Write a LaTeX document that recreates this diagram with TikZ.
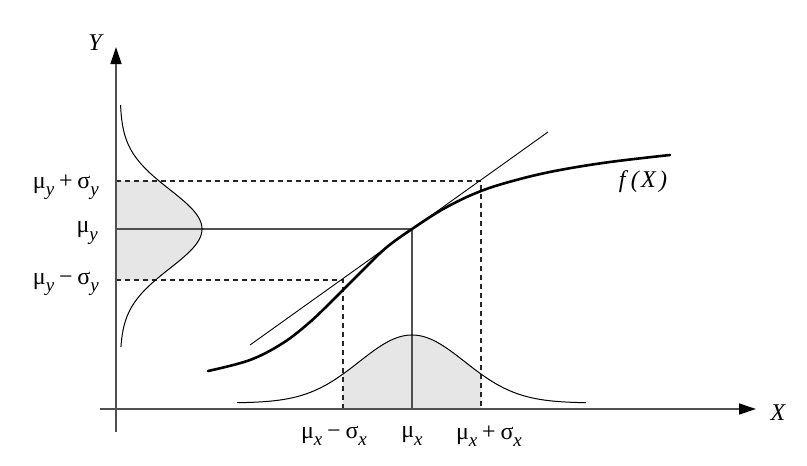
\documentclass[tikz,border=0pt]{standalone}
\usepackage{fontspec}
\setmainfont{Liberation Serif}
\usetikzlibrary{arrows.meta}
\newcommand{\sbx}[1]{\raisebox{-0.3em}{\fontsize{19}{21}\selectfont\itshape #1}}
\newcommand{\opsp}[1]{\hspace{0.2em}#1\hspace{0.2em}}
\definecolor{axisgray}{HTML}{505050}
\definecolor{shadegray}{HTML}{E6E6E6}
\tikzset{
  axisline/.style={draw=axisgray, line width=1.3pt, -{Triangle[length=17pt,width=11pt,fill=black,color=black]}},
  guideline/.style={draw=axisgray, line width=1.2pt},
  dashguide/.style={draw=black!85, line width=1.1pt, dash pattern=on 5pt off 4pt},
  thincurve/.style={draw=black, line width=1pt},
  fcurve/.style={draw=black, line width=2.6pt, line cap=round},
  lbl/.style={inner sep=0pt, font=\fontsize{24}{28}\selectfont},
  shade/.style={fill=shadegray, draw=none}
}
\begin{document}
\begin{tikzpicture}[x=1pt,y=-1pt]
\useasboundingbox (0,0) rectangle (807,466);
% shaded areas
\fill[shade] (343,409) -- plot[domain=343:481, samples=60] (\x, {403-68*exp(-((\x-412)/100)^2/0.558)}) -- (481,409) -- cycle;
\fill[shade] (116,181) -- plot[domain=181:280, samples=60] ({120+82*exp(-((\x-229)/100)^2/0.3114)}, \x) -- (116,280) -- cycle;
% coordinates
\coordinate (xs) at (100,409);
\coordinate (xe) at (756,409);
\coordinate (ys) at (116,432);
\coordinate (ye) at (116,47);
\coordinate (P) at (412,229);
\coordinate (Py) at (116,229);
\coordinate (Px) at (412,409);
\coordinate (U) at (481,181);
\coordinate (Uy) at (116,181);
\coordinate (Ux) at (481,409);
\coordinate (L) at (343,280);
\coordinate (Ly) at (116,280);
\coordinate (Lx) at (343,409);
\coordinate (t1) at (250,345);
\coordinate (t2) at (548,132);
% guides
\draw[dashguide] (Uy) -- (U) -- (Ux);
\draw[dashguide] (Ly) -- (L) -- (Lx);
\draw[guideline] (Py) -- (P) -- (Px);
% axes
\draw[axisline] (xs) -- (xe);
\draw[axisline] (ys) -- (ye);
% gaussians
\draw[thincurve] plot[domain=237:586, samples=150] (\x, {403-68*exp(-((\x-412)/100)^2/0.558)});
\draw[thincurve] plot[domain=105:347, samples=150] ({120+82*exp(-((\x-229)/100)^2/0.3114)}, \x);
% tangent
\draw[thincurve, line width=0.9pt] (t1) -- (t2);
% f(X)
\draw[fcurve] plot[smooth, tension=0.6] coordinates {(208,371) (250,360) (283,343) (310,322) (333,300) (343,290) (367,266) (387,247) (412,229) (445,208) (481,191) (520,179) (560,170) (610,162) (670,155)};
% labels
\node[lbl] (lY) at (95,43) {\itshape Y};
\node[lbl] (lX) at (778,413) {\itshape X};
\node[lbl] (lf) at (643,182) {\itshape f\hspace{0.22em}(\hspace{0.1em}X\hspace{0.14em})};
\node[lbl, anchor=east] (lyp) at (99,187) {μ\sbx{y}\opsp{+}σ\sbx{y}};
\node[lbl, anchor=east] (ly) at (98,233) {μ\sbx{y}};
\node[lbl, anchor=east] (lym) at (99,284) {μ\sbx{y}\opsp{−}σ\sbx{y}};
\node[lbl] (lxm) at (334,436) {μ\sbx{x}\opsp{−}σ\sbx{x}};
\node[lbl] (lx) at (412,436) {μ\sbx{x}};
\node[lbl] (lxp) at (489,436) {μ\sbx{x}\opsp{+}σ\sbx{x}};
\end{tikzpicture}
\end{document}
